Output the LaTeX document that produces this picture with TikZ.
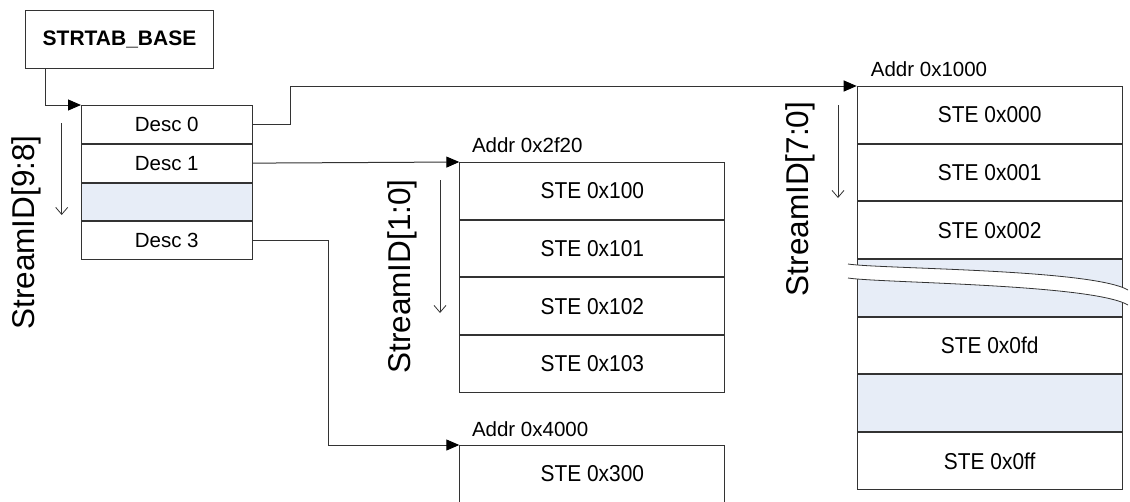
\documentclass[tikz,border=0pt]{standalone}
\usepackage{fontspec}
\usepackage{graphicx}
\setmainfont{Liberation Sans}
\usetikzlibrary{arrows.meta}
\definecolor{rowblue}{HTML}{E7EDF7}
\definecolor{ln}{HTML}{333333}
\newcommand{\stetxt}[1]{\scalebox{1.02}[1.12]{#1}}
\begin{document}
\begin{tikzpicture}[x=1pt,y=-1pt,
 cell/.style={draw=ln, line width=1pt, rectangle, inner sep=0pt, anchor=north west, font=\fontsize{20.5}{24}\selectfont},
 dcell/.style={cell, minimum width=170.5pt, minimum height=37.75pt},
 scell/.style={cell, minimum width=265pt, minimum height=56.67pt},
 gap/.style={fill=rowblue},
 conn/.style={draw=ln, line width=1pt, -{Triangle[length=13pt,width=11pt,color=black]}},
 idx/.style={draw=ln, line width=0.8pt, -{Straight Barb[length=7pt,width=12pt]}},
 addr/.style={anchor=base west, inner sep=0pt, font=\fontsize{20.5}{24}\selectfont},
 sid/.style={rotate=90, inner sep=0pt, font=\fontsize{31.5}{36}\selectfont},
 brk/.style={draw=ln, line width=0.8pt}
]
\useasboundingbox (0,0) rectangle (1130,501);
\fill[white] (0,0) rectangle (1130,501);

% STRTAB_BASE
\node[draw=ln, line width=1pt, minimum width=188pt, minimum height=58pt, inner sep=0pt,
      anchor=north west, font=\bfseries\fontsize{21}{25}\selectfont] (base) at (25,10) {STRTAB\_BASE};

% Descriptor table
\node[dcell] (d0) at (81,105) {Desc 0};
\node[dcell] (d1) at (d0.south west) {Desc 1};
\node[dcell,gap] (d2) at (d1.south west) {};
\node[dcell] (d3) at (d2.south west) {Desc 3};

% Table 0x2f20
\node[scell] (s0) at (459.3,162) {\stetxt{STE 0x100}};
\node[scell] (s1) at (s0.south west) {\stetxt{STE 0x101}};
\node[scell] (s2) at (s1.south west) {\stetxt{STE 0x102}};
\node[scell] (s3) at (s2.south west) {\stetxt{STE 0x103}};

% Table 0x4000
\node[scell] (u0) at (459.3,445) {\stetxt{STE 0x300}};

% Table 0x1000
\node[scell] (t0) at (856.7,86) {\stetxt{STE 0x000}};
\node[scell] (t1) at (t0.south west) {\stetxt{STE 0x001}};
\node[scell] (t2) at (t1.south west) {\stetxt{STE 0x002}};
\node[scell,gap] (t3) at (t2.south west) {};
\node[scell] (t4) at (t3.south west) {\stetxt{STE 0x0fd}};
\node[scell,gap] (t5) at (t4.south west) {};
\node[scell] (t6) at (t5.south west) {\stetxt{STE 0x0ff}};

% break mark
\fill[white] (848,264) .. controls (880,269) and (1092,269) .. (1128,290)
  -- (1128,305) .. controls (1092,284) and (880,283) .. (848,278) -- cycle;
\draw[brk] (848,264) .. controls (880,269) and (1092,269) .. (1128,290);
\draw[brk] (848,278) .. controls (880,283) and (1092,284) .. (1128,305);

% Address labels
\node[addr] (al1) at ([xshift=12.5pt,yshift=10pt]s0.north west) {Addr 0x2f20};
\node[addr] (al2) at ([xshift=12.5pt,yshift=9pt]u0.north west) {Addr 0x4000};
\node[addr] (al3) at ([xshift=14pt,yshift=9.5pt]t0.north west) {Addr 0x1000};

% Connectors
\draw[conn] ([xshift=20pt]base.south west) |- (d0.north west);
\draw[conn] (d0.east) -- ++(38,0) |- (t0.north west);
\draw[conn] (d1.east) -- (s0.north west);
\draw[conn] (d3.east) -- ++(75.5,0) |- (u0.north west);

% StreamID index arrows and labels
\coordinate (a1s) at (61.7,123); \coordinate (a1e) at (61.7,215);
\draw[idx] (a1s) -- (a1e);
\node[sid] (l1) at (26,232.5) {StreamID[9:8]};

\coordinate (a2s) at (440,180); \coordinate (a2e) at (440,313);
\draw[idx] (a2s) -- (a2e);
\node[sid] (l2) at (402,276.5) {StreamID[1:0]};

\coordinate (a3s) at (838,105); \coordinate (a3e) at (838,198);
\draw[idx] (a3s) -- (a3e);
\node[sid] (l3) at (800,199) {StreamID[7:0]};
\end{tikzpicture}
\end{document}
